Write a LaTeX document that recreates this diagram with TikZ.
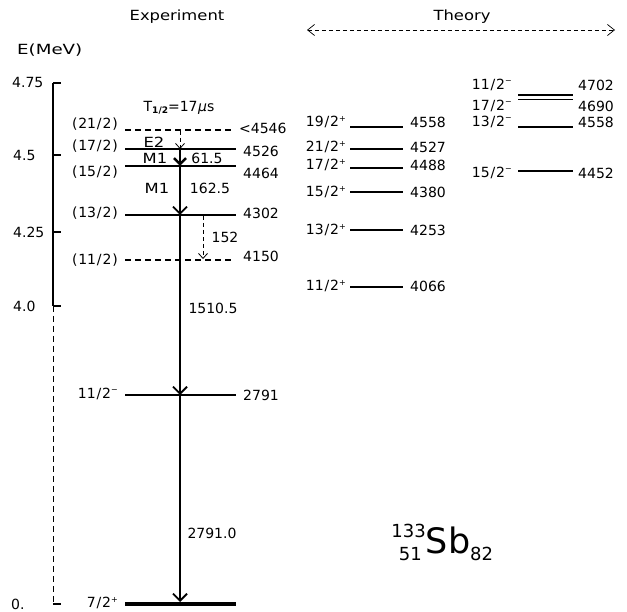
\documentclass[tikz,border=0pt]{standalone}
\usepackage{fontspec}
\setmainfont{DejaVu Sans}
\newfontfamily\wf[FakeStretch=1.17]{DejaVu Sans}
\newfontfamily\wwf[FakeStretch=1.3]{DejaVu Sans}
\usetikzlibrary{arrows.meta}
\newcommand{\fs}{\fontsize{14}{16}\selectfont}
\newcommand{\sP}{\raisebox{0.6ex}{\fontsize{8}{8}\selectfont +}}
\newcommand{\sM}{\raisebox{0.75ex}{\fontsize{8}{8}\selectfont −}}
\newcommand{\sls}{\kern0.9pt/\kern0.9pt}
\newcommand{\po}{(\kern0.8pt}
\newcommand{\pc}{\kern0.8pt)}
\begin{document}
\begin{tikzpicture}[x=1pt,y=-1pt,
  txt/.style={font=\fs,inner sep=0pt},
  lv/.style={line width=1.3pt},
  lvb/.style={line width=2.6pt},
  dsh/.style={dash pattern=on 6pt off 4pt},
  arr/.style={line width=1.8pt,-{Straight Barb[length=7pt,width=14pt]}},
  arrb/.style={line width=2.6pt,-{Straight Barb[length=6pt,width=12pt]}},
  arrt/.style={line width=0.8pt,dash pattern=on 4pt off 3pt,-{Straight Barb[length=5pt,width=9pt]}},
  tick/.style={line width=1.3pt}]
\useasboundingbox (0,0) rectangle (627,612);

% headings
\node[txt,font=\fs\wf] (exp) at (177,17) {Experiment};
\node[txt,font=\fs\wf] (th) at (462,17) {Theory};
\coordinate (thl) at (307,30);
\coordinate (thr) at (615,30);
\draw[line width=0.7pt,dash pattern=on 4pt off 3pt,{Straight Barb[length=7pt,width=11pt]}-{Straight Barb[length=7pt,width=11pt]}] (thl) -- (thr);
\node[txt,anchor=west,font=\fs\wwf] (emev) at (17,50) {E(MeV)};

% axis
\coordinate (ax1) at (53,83);
\coordinate (ax2) at (53,306);
\coordinate (ax3) at (53,604);
\draw[tick] (ax1) -- (ax2);
\draw[line width=1pt,dash pattern=on 6pt off 4pt] (ax2) -- (ax3);
\foreach \yy/\nm in {83/a,155/b,232/c,306/d,604/e}{
  \coordinate (t\nm) at (53,\yy);
  \coordinate (u\nm) at (61,\yy);
  \draw[tick] (t\nm) -- (u\nm);
}
\node[txt,anchor=west] (k1) at (12,82) {4.75};
\node[txt,anchor=west] (k2) at (13,155) {4.5};
\node[txt,anchor=west] (k3) at (13,232) {4.25};
\node[txt,anchor=west] (k4) at (13,306) {4.0};
\node[txt,anchor=west] (k5) at (11,604) {0.};

% experimental levels
\draw[lv,dsh] (125,130) -- (232,130);
\node[txt,anchor=east] (l21) at (118,124) {\po21\sls2\pc};
\node[txt,anchor=west] (r21) at (239,128) {<4546};
\draw[lvb] (125,149) -- (236,149);
\node[txt,anchor=east] (l17) at (118,146) {\po17\sls2\pc};
\node[txt,anchor=west] (r17) at (243,151) {4526};
\draw[lv,line width=1.6pt] (125,166) -- (236,166);
\node[txt,anchor=east] (l15) at (118,172) {\po15\sls2\pc};
\node[txt,anchor=west] (r15) at (243,173) {4464};
\draw[lv,line width=1.8pt] (125,215) -- (236,215);
\node[txt,anchor=east] (l13) at (118,213) {\po13\sls2\pc};
\node[txt,anchor=west] (r13) at (243,213) {4302};
\draw[lv,dsh,line width=1.6pt] (125,260) -- (232,260);
\node[txt,anchor=east] (l11) at (118,260) {\po11\sls2\pc};
\node[txt,anchor=west] (r11) at (243,256) {4150};
\draw[lv,line width=1.5pt] (125,395) -- (236,395);
\node[txt,anchor=east] (l2791) at (118,394) {11\sls2\sM};
\node[txt,anchor=west] (r2791) at (243,395) {2791};
\draw[line width=4.5pt] (125,604) -- (236,604);
\node[txt,anchor=east] (l0) at (118,603) {7\sls2\sP};

% transitions
\coordinate (g21) at (180,131);
\coordinate (g17) at (180,149);
\coordinate (g15) at (180,166);
\coordinate (g13) at (180,215);
\coordinate (g2791) at (180,395);
\coordinate (g0) at (180,602);
\coordinate (h13) at (203,216);
\coordinate (h11) at (203,259);
\draw[arrt] (g21) -- (g17);
\draw[arrb] (g17) -- (g15);
\draw[arr] (g15) -- (g13);
\draw[arr] (g13) -- (g2791);
\draw[arr] (g2791) -- (g0);
\draw[arrt] (h13) -- (h11);

\node[txt] (thalf) at (179,108) {T\raisebox{-0.3ex}{\fontsize{9}{9}\selectfont\bfseries 1/2}=17\kern0.5pt{\itshape μ}s};
\node[txt,font=\fs\wf] (le2) at (154,142) {E2};
\node[txt,font=\fs\wf] (lm1a) at (155,158) {M1};
\node[txt] (e615) at (207,158) {61.5};
\node[txt,font=\fs\wf] (lm1b) at (157,188) {M1};
\node[txt] (e1625) at (210,188) {162.5};
\node[txt] (e152) at (225,237) {152};
\node[txt] (e15105) at (213,308) {1510.5};
\node[txt] (e27910) at (212,533) {2791.0};

% theory column 1
\draw[line width=2.2pt] (350,127) -- (403,127);
\node[txt,anchor=east] (a1) at (346,122) {19\sls2\sP};
\node[txt,anchor=west] (b1) at (410,122) {4558};
\draw[line width=2.8pt] (350,149) -- (403,149);
\node[txt,anchor=east] (a2) at (346,147) {21\sls2\sP};
\node[txt,anchor=west] (b2) at (410,147) {4527};
\draw[line width=1.6pt] (350,168) -- (403,168);
\node[txt,anchor=east] (a3) at (346,165) {17\sls2\sP};
\node[txt,anchor=west] (b3) at (410,165) {4488};
\draw[lv] (350,192) -- (403,192);
\node[txt,anchor=east] (a4) at (346,192) {15\sls2\sP};
\node[txt,anchor=west] (b4) at (410,192) {4380};
\draw[lv] (350,230) -- (403,230);
\node[txt,anchor=east] (a5) at (346,230) {13\sls2\sP};
\node[txt,anchor=west] (b5) at (410,230) {4253};
\draw[lv] (350,287) -- (403,287);
\node[txt,anchor=east] (a6) at (346,286) {11\sls2\sP};
\node[txt,anchor=west] (b6) at (410,286) {4066};

% theory column 2
\draw[line width=1.6pt] (518,95) -- (573,95);
\draw[line width=1.6pt] (518,99.5) -- (573,99.5);
\node[txt,anchor=east] (c1) at (512,85) {11\sls2\sM};
\node[txt,anchor=west] (d1) at (578,85) {4702};
\node[txt,anchor=east] (c2) at (512,106) {17\sls2\sM};
\node[txt,anchor=west] (d2) at (578,106) {4690};
\draw[line width=2.2pt] (518,127) -- (573,127);
\node[txt,anchor=east] (c3) at (512,122) {13\sls2\sM};
\node[txt,anchor=west] (d3) at (578,122) {4558};
\draw[line width=2.4pt] (518,171) -- (573,171);
\node[txt,anchor=east] (c4) at (512,173) {15\sls2\sM};
\node[txt,anchor=west] (d4) at (578,173) {4452};

% nucleus label
\node[inner sep=0pt,anchor=base,font=\fontsize{35}{35}\selectfont] (sb) at (448,553) {Sb};
\node[inner sep=0pt,anchor=base east,font=\fontsize{18}{18}\selectfont] (mass) at (426,537) {133};
\node[inner sep=0pt,anchor=base east,font=\fontsize{18}{18}\selectfont] (zz) at (422,560) {51};
\node[inner sep=0pt,anchor=base west,font=\fontsize{18}{18}\selectfont] (nn) at (470,560) {82};
\end{tikzpicture}
\end{document}
